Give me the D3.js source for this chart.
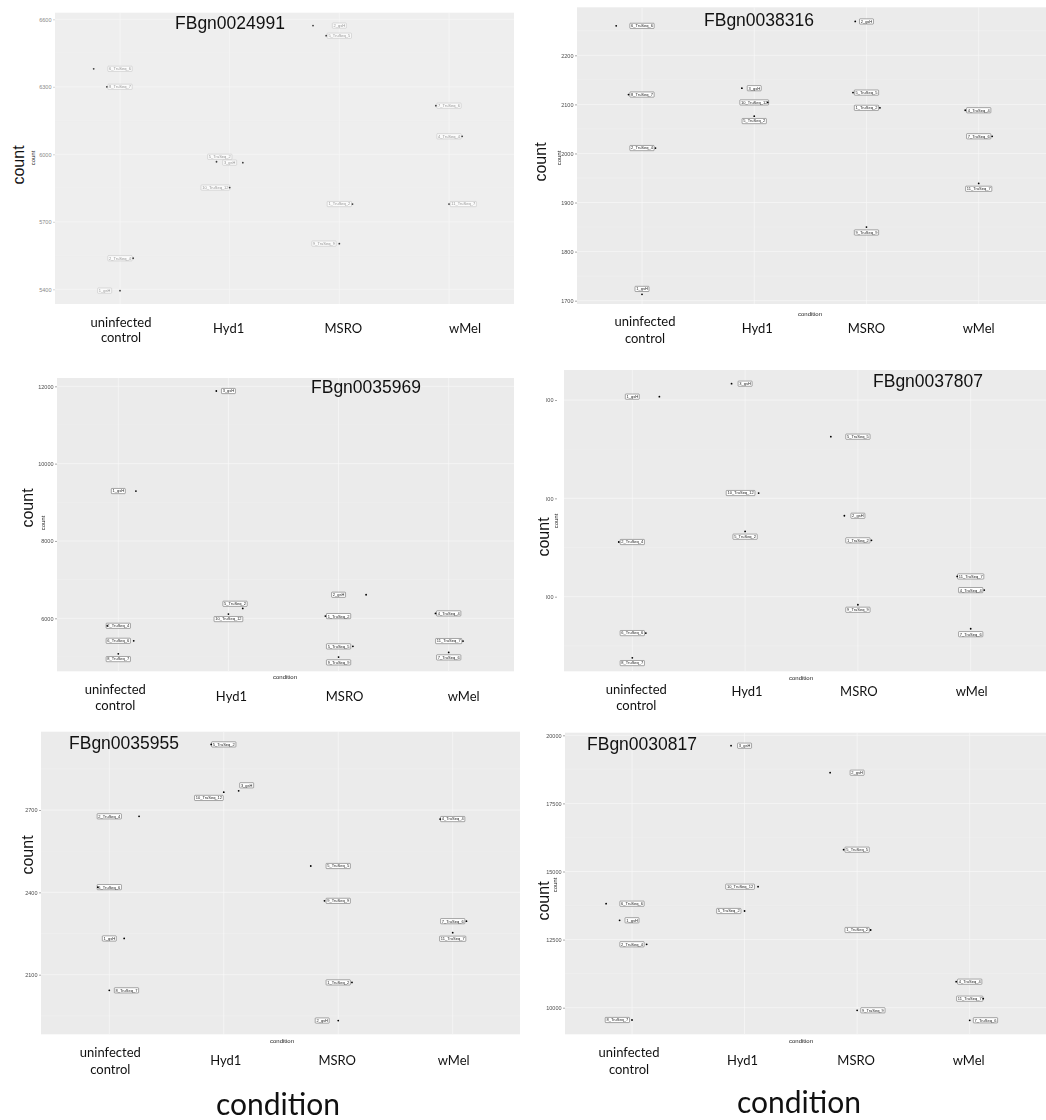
<!DOCTYPE html>
<html><head><meta charset="utf-8">
<script src="https://cdn.jsdelivr.net/npm/d3@7"></script>
<style>body{margin:0;background:#fff}svg{display:block}</style>
</head><body><svg id="c" width="1046" height="1120"></svg>
<script>
// ---------------- DATA ----------------
const categories = ["uninfected control", "Hyd1", "MSRO", "wMel"];
const genes = ["FBgn0024991", "FBgn0038316", "FBgn0035969", "FBgn0037807", "FBgn0035955", "FBgn0030817"];
// group index of each point (same layout in every panel)
const groupIdx = [0,0,0,0, 1,1,1, 2,2,2,2, 3,3,3];

// Panel 1 FBgn0024991
const p1Count   = [6380, 6300, 5538, 5394, 5967, 5963, 5852, 6572, 6527, 5779, 5603, 6216, 6080, 5779];
const p1Sample  = ["6_TruSeq_6","8_TruSeq_7","2_TruSeq_4","1_gsH","5_TruSeq_2","3_gsH","10_TruSeq_12","2_gsH","5_TruSeq_5","1_TruSeq_2","9_TruSeq_9","7_TruSeq_6","4_TruSeq_4","11_TruSeq_7"];
const p1Jitter  = [-0.24,-0.12,0.12,0, -0.12,0.12,0, -0.24,-0.12,0.12,0, -0.12,0.12,0];
const p1LabelDx = [0,0,0,-0.14, -0.09,0,-0.13, 0,0,0,-0.14, 0,0,0.13];
const p1LabelCount = [null,null,null,null, 5989,null,null, null,null,null,null, null,null,null];
const p1Ticks   = [5400, 5700, 6000, 6300, 6600];

// Panel 2 FBgn0038316
const p2Count   = [2260, 2120, 2011, 1713, 2133, 2104, 2076, 2269, 2124, 2093, 1850, 2088, 2035, 1939];
const p2Sample  = ["6_TruSeq_6","8_TruSeq_7","2_TruSeq_4","1_gsH","3_gsH","10_TruSeq_12","5_TruSeq_2","2_gsH","5_TruSeq_5","1_TruSeq_2","9_TruSeq_9","4_TruSeq_4","7_TruSeq_6","11_TruSeq_7"];
const p2Jitter  = [-0.23,-0.12,0.12,0, -0.11,0.12,0, -0.1,-0.12,0.12,0, -0.12,0.12,0];
const p2LabelDx = [0,0,0,0, 0,0,0, 0,0,0,0, 0,0,0];
const p2LabelCount = [null,null,null,1724, null,null,2066, null,null,null,1839, null,null,1928];
const p2Ticks   = [1700, 1800, 1900, 2000, 2100, 2200];

// Panel 3 FBgn0035969
const p3Count   = [9291, 5806, 5418, 5082, 11878, 6256, 6109, 6609, 6057, 5274, 4997, 6127, 5411, 5118];
const p3Sample  = ["1_gsH","2_TruSeq_4","6_TruSeq_6","8_TruSeq_7","3_gsH","5_TruSeq_2","10_TruSeq_12","2_gsH","1_TruSeq_2","5_TruSeq_5","9_TruSeq_9","4_TruSeq_4","11_TruSeq_7","7_TruSeq_6"];
const p3Jitter  = [0.16,-0.1,0.14,0, -0.11,0.13,0, 0.25,-0.12,0.13,0, -0.12,0.13,0];
const p3LabelDx = [0,0,0,0, 0,0.06,0, 0,0,0,0, 0,0,0];
const p3LabelCount = [null,null,null,4945, null,6376,5980, null,null,null,4860, null,null,4989];
const p3Ticks   = [6000, 8000, 10000, 12000];

// Panel 4 FBgn0037807 (tick labels cropped in the figure)
const p4Count   = [6034, 4556, 3630, 3379, 6166, 5054, 4664, 5627, 4823, 4573, 3918, 4206, 4067, 3674];
const p4Sample  = ["1_gsH","2_TruSeq_4","6_TruSeq_6","8_TruSeq_7","3_gsH","10_TruSeq_12","5_TruSeq_2","5_TruSeq_5","2_gsH","1_TruSeq_2","9_TruSeq_9","11_TruSeq_7","4_TruSeq_4","7_TruSeq_6"];
const p4Jitter  = [0.24,-0.12,0.12,0, -0.12,0.12,0, -0.24,-0.12,0.12,0, -0.12,0.12,0];
const p4LabelDx = [0,0,0,0, 0,-0.04,0, 0,0,0,0, 0,0,0];
const p4LabelCount = [null,null,null,3325, null,null,4610, null,null,null,3867, null,null,3619];
const p4Ticks   = [4000, 5000, 6000];

// Panel 5 FBgn0035955
const p5Count   = [2677, 2419, 2232, 2043, 2939, 2770, 2765, 2496, 2369, 2072, 1933, 2667, 2295, 2253];
const p5Sample  = ["2_TruSeq_4","6_TruSeq_6","1_gsH","8_TruSeq_7","5_TruSeq_2","3_gsH","10_TruSeq_12","5_TruSeq_5","9_TruSeq_9","1_TruSeq_2","2_gsH","4_TruSeq_4","7_TruSeq_6","11_TruSeq_7"];
const p5Jitter  = [0.26,-0.1,0.13,0, -0.11,0.13,0, -0.24,-0.12,0.12,0, -0.11,0.12,0];
const p5LabelDx = [0,0,0,0.15, 0,0.2,-0.13, 0,0,0,-0.14, 0,0,0];
const p5LabelCount = [null,null,null,null, null,2790,2744, null,null,null,null, null,null,2231];
const p5Ticks   = [2100, 2400, 2700];

// Panel 6 FBgn0030817
const p6Count   = [13818, 13209, 12328, 9549, 19618, 14442, 13550, 18627, 15800, 12852, 9905, 10955, 10331, 9538];
const p6Sample  = ["6_TruSeq_6","1_gsH","2_TruSeq_4","8_TruSeq_7","3_gsH","10_TruSeq_12","5_TruSeq_2","2_gsH","5_TruSeq_5","1_TruSeq_2","9_TruSeq_9","4_TruSeq_4","11_TruSeq_7","7_TruSeq_6"];
const p6Jitter  = [-0.23,-0.11,0.13,0, -0.12,0.12,0, -0.24,-0.12,0.12,0, -0.12,0.12,0];
const p6LabelDx = [0,0,0,-0.13, 0,-0.04,-0.14, 0,0,0,0.14, 0,0,0.14];
const p6LabelCount = [null,null,null,null, null,null,null, null,null,null,null, null,null,null];
const p6Ticks   = [10000, 12500, 15000, 17500, 20000];

const yTitle = "count";
const xTitle = "condition";

// ---------------- LAYOUT ----------------
const svg = d3.select("#c");
const panels = [
  {gene:genes[0], count:p1Count, sample:p1Sample, jitter:p1Jitter, ldx:p1LabelDx, lcount:p1LabelCount, ticks:p1Ticks,
   bg:[55,12.7,514,304], yr:[289.3,19.3], xr:[120,449], faded:true,
   title:[230,23], bigCount:[18,165], smallCount:[33,158], smallCond:null,
   catY:[322,337,328], catDx:[1,-1,4,16]},
  {gene:genes[1], count:p2Count, sample:p2Sample, jitter:p2Jitter, ldx:p2LabelDx, lcount:p2LabelCount, ticks:p2Ticks,
   bg:[577,7.3,1046,304], yr:[300.7,55.3], xr:[642,978.7],
   title:[759,20], bigCount:[540,162], smallCount:[559,158], smallCond:[810,314],
   catY:[321,338,328], catDx:[3,3,0,0]},
  {gene:genes[2], count:p3Count, sample:p3Sample, jitter:p3Jitter, ldx:p3LabelDx, lcount:p3LabelCount, ticks:p3Ticks,
   bg:[57,378,514,671.3], yr:[618.3,386.3], xr:[118.3,448.7],
   title:[366,387], bigCount:[27,508], smallCount:[43,523], smallCond:[285,677],
   catY:[689,705,696], catDx:[-3,3,6,15]},
  {gene:genes[3], count:p4Count, sample:p4Sample, jitter:p4Jitter, ldx:p4LabelDx, lcount:p4LabelCount, ticks:p4Ticks,
   bg:[564,370,1046,671.3], yr:[596.7,400], xr:[632.3,970.7], clipTicks:546, axisX:557,
   title:[928,381], bigCount:[543,537], smallCount:[556,521], smallCond:[801,678],
   catY:[689,705,691], catDx:[4,2,1,1]},
  {gene:genes[4], count:p5Count, sample:p5Sample, jitter:p5Jitter, ldx:p5LabelDx, lcount:p5LabelCount, ticks:p5Ticks,
   bg:[41,731.7,520,1034.3], yr:[974.7,810], xr:[109.3,452.7],
   title:[124,743], bigCount:[27,855], smallCount:null, smallCond:[282,1041],
   catY:[1052,1069,1060], catDx:[1,2,-1,1]},
  {gene:genes[5], count:p6Count, sample:p6Sample, jitter:p6Jitter, ldx:p6LabelDx, lcount:p6LabelCount, ticks:p6Ticks,
   bg:[565,732.7,1046,1034.3], yr:[1007.7,735.3], xr:[632,969.7],
   title:[642,744], bigCount:[543,901], smallCount:[555,885], smallCond:[801,1041],
   catY:[1052,1069,1060], catDx:[-3,-2,-1,-1]}
];

panels.forEach((p, pi) => {
  const g = svg.append("g");
  const [x0, y0, x1, y1] = p.bg;
  const clipId = "clip" + pi;
  svg.append("clipPath").attr("id", clipId).append("rect")
    .attr("x", x0).attr("y", y0).attr("width", x1 - x0).attr("height", y1 - y0);

  g.append("rect").attr("x", x0).attr("y", y0).attr("width", x1 - x0).attr("height", y1 - y0)
    .attr("fill", p.faded ? "#eeeeee" : "#ebebeb");

  const y = d3.scaleLinear().domain([p.ticks[0], p.ticks[p.ticks.length - 1]]).range(p.yr);
  const x = d3.scalePoint().domain(categories).range(p.xr);
  const step = x.step();

  const grid = g.append("g").attr("clip-path", `url(#${clipId})`);
  const tstep = p.ticks[1] - p.ticks[0];
  const minors = d3.range(-3, p.ticks.length + 3).map(k => p.ticks[0] - tstep / 2 + k * tstep);
  grid.selectAll("line.minor").data(minors).join("line")
    .attr("x1", x0).attr("x2", x1).attr("y1", d => y(d)).attr("y2", d => y(d))
    .attr("stroke", "#f3f3f3").attr("stroke-width", 0.4);
  grid.selectAll("line.major").data(p.ticks).join("line")
    .attr("x1", x0).attr("x2", x1).attr("y1", d => y(d)).attr("y2", d => y(d))
    .attr("stroke", "#f8f8f8").attr("stroke-width", 0.7);
  grid.selectAll("line.vx").data(categories).join("line")
    .attr("x1", d => x(d)).attr("x2", d => x(d)).attr("y1", y0).attr("y2", y1)
    .attr("stroke", "#f8f8f8").attr("stroke-width", 0.7);

  // y axis
  const ax = p.axisX || x0;
  const axG = g.append("g").attr("transform", `translate(${ax},0)`)
    .call(d3.axisLeft(y).tickValues(p.ticks).tickSize(2).tickPadding(1.5).tickFormat(d3.format("d")));
  axG.select(".domain").remove();
  axG.selectAll(".tick line").attr("stroke", p.faded ? "#aaa" : "#555").attr("stroke-width", 0.5);
  axG.selectAll(".tick text").attr("font-size", 5.5).attr("font-family", "Liberation Sans, Arial, sans-serif")
    .attr("fill", p.faded ? "#888" : "#4d4d4d");
  if (p.clipTicks) {
    const cid = "tclip" + pi;
    svg.append("clipPath").attr("id", cid).append("rect")
      .attr("x", p.clipTicks - ax).attr("y", y0).attr("width", 100).attr("height", y1 - y0);
    axG.attr("clip-path", `url(#${cid})`);
  }

  // points + labels
  const pts = groupIdx.map((gi, i) => ({
    cat: categories[gi], v: p.count[i], s: p.sample[i], j: p.jitter[i],
    ldx: p.ldx[i], lv: p.lcount[i] == null ? p.count[i] : p.lcount[i]
  }));
  const mk = g.append("g").attr("opacity", p.faded ? 0.75 : 1);
  const lab = mk.selectAll("g.lab").data(pts).join("g")
    .attr("transform", d => `translate(${x(d.cat) + d.ldx * step},${y(d.lv)})`);
  lab.append("text").text(d => d.s)
    .attr("font-size", 4).attr("font-family", "Liberation Sans, Arial, sans-serif")
    .attr("text-anchor", "middle").attr("dy", "0.35em")
    .attr("fill", p.faded ? "#777" : "#222");
  lab.each(function () {
    const el = d3.select(this);
    const w = el.select("text").node().getComputedTextLength();
    el.insert("rect", "text").attr("x", -w / 2 - 1.2).attr("y", -2.6).attr("width", w + 2.4).attr("height", 5.2)
      .attr("fill", "#fff").attr("stroke", p.faded ? "#aaa" : "#555").attr("stroke-width", 0.5).attr("rx", 0.6);
  });
  mk.selectAll("circle").data(pts).join("circle")
    .attr("cx", d => x(d.cat) + d.j * step).attr("cy", d => y(d.v)).attr("r", 0.9)
    .attr("fill", "#000");

  // titles
  g.append("text").attr("x", p.title[0]).attr("y", p.title[1]).attr("dy", "0.35em")
    .attr("text-anchor", "middle").attr("font-size", 17.5)
    .attr("font-family", "Liberation Sans, Arial, sans-serif").attr("fill", "#111").text(p.gene);
  g.append("text").attr("transform", `translate(${p.bigCount[0]},${p.bigCount[1]}) rotate(-90)`)
    .attr("dy", "0.35em").attr("text-anchor", "middle").attr("font-size", 16)
    .attr("font-family", "Liberation Sans, Arial, sans-serif").attr("fill", "#111").text(yTitle);
  if (p.smallCount)
    g.append("text").attr("transform", `translate(${p.smallCount[0]},${p.smallCount[1]}) rotate(-90)`)
      .attr("dy", "0.35em").attr("text-anchor", "middle").attr("font-size", 6)
      .attr("font-family", "Liberation Sans, Arial, sans-serif").attr("fill", "#222").text(yTitle);
  if (p.smallCond)
    g.append("text").attr("x", p.smallCond[0]).attr("y", p.smallCond[1]).attr("dy", "0.35em")
      .attr("text-anchor", "middle").attr("font-size", 6)
      .attr("font-family", "Liberation Sans, Arial, sans-serif").attr("fill", "#222").text(xTitle);

  // category labels
  categories.forEach((c, ci) => {
    const cx = x(c) + p.catDx[ci];
    const words = c.split(" ");
    const lines = words.length > 1 ? words.map((w, wi) => [w, p.catY[wi]]) : [[c, p.catY[2]]];
    lines.forEach(([w, yy]) => {
      g.append("text").attr("x", cx).attr("y", yy).attr("dy", "0.35em")
        .attr("text-anchor", "middle").attr("font-size", 13)
        .attr("font-family", "Lato, 'Open Sans', sans-serif").attr("fill", "#111").text(w);
    });
  });
});

// big shared condition labels
[[278, 1104], [799, 1102]].forEach(pos => {
  svg.append("text").attr("x", pos[0]).attr("y", pos[1]).attr("dy", "0.35em")
    .attr("text-anchor", "middle").attr("font-size", 30)
    .attr("font-family", "Lato, 'Open Sans', sans-serif").attr("fill", "#111").text(xTitle);
});
</script></body></html>
